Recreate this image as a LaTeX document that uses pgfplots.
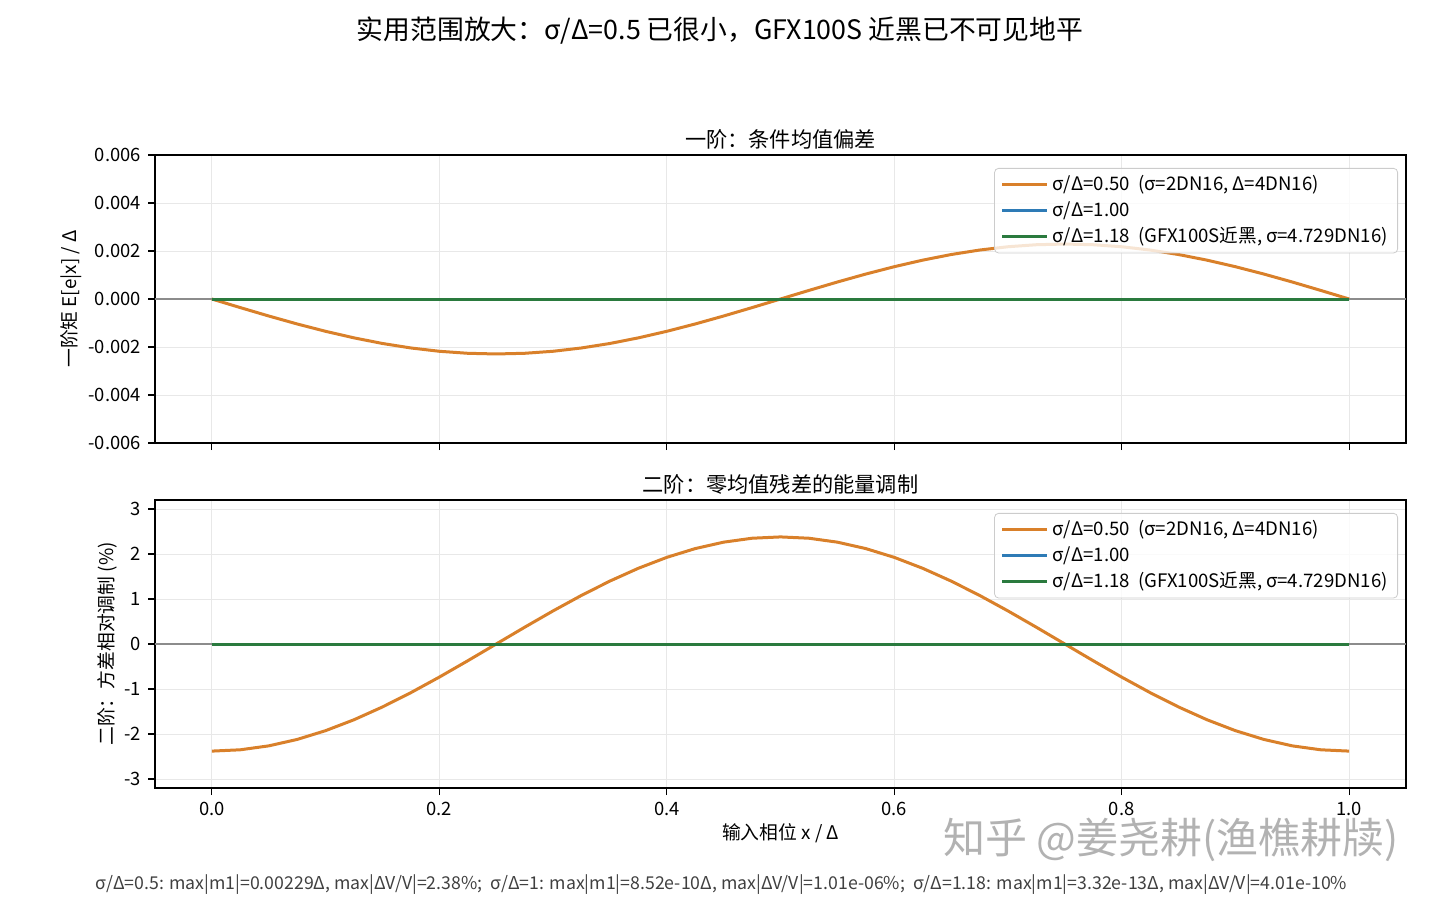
\documentclass[border=0pt]{standalone}
\usepackage{fontspec}
\setmainfont{Noto Sans CJK SC}
\usepackage{pgfplots}
\usepackage{pgfplotstable}
\pgfplotsset{compat=1.18}
\definecolor{corange}{HTML}{D9802A}
\definecolor{cblue}{HTML}{2E7BB6}
\definecolor{cgreen}{HTML}{2A7A3E}

\pgfplotstableread{
x m1
0.000 0
0.025 -0.000358
0.050 -0.000708
0.075 -0.001040
0.100 -0.001346
0.125 -0.001619
0.150 -0.001853
0.175 -0.002040
0.200 -0.002178
0.225 -0.002262
0.250 -0.002290
0.275 -0.002262
0.300 -0.002178
0.325 -0.002040
0.350 -0.001853
0.375 -0.001619
0.400 -0.001346
0.425 -0.001040
0.450 -0.000708
0.475 -0.000358
0.500 0
0.525 0.000358
0.550 0.000708
0.575 0.001040
0.600 0.001346
0.625 0.001619
0.650 0.001853
0.675 0.002040
0.700 0.002178
0.725 0.002262
0.750 0.002290
0.775 0.002262
0.800 0.002178
0.825 0.002040
0.850 0.001853
0.875 0.001619
0.900 0.001346
0.925 0.001040
0.950 0.000708
0.975 0.000358
1.000 0
}\tabtop

\pgfplotstableread{
x dv
0.000 -2.3800
0.025 -2.3507
0.050 -2.2635
0.075 -2.1206
0.100 -1.9255
0.125 -1.6829
0.150 -1.3989
0.175 -1.0805
0.200 -0.7355
0.225 -0.3723
0.250 0
0.275 0.3723
0.300 0.7355
0.325 1.0805
0.350 1.3989
0.375 1.6829
0.400 1.9255
0.425 2.1206
0.450 2.2635
0.475 2.3507
0.500 2.3800
0.525 2.3507
0.550 2.2635
0.575 2.1206
0.600 1.9255
0.625 1.6829
0.650 1.3989
0.675 1.0805
0.700 0.7355
0.725 0.3723
0.750 0
0.775 -0.3723
0.800 -0.7355
0.825 -1.0805
0.850 -1.3989
0.875 -1.6829
0.900 -1.9255
0.925 -2.1206
0.950 -2.2635
0.975 -2.3507
1.000 -2.3800
}\tabbot

\pgfplotstableread{
x y
0.00 0
0.25 0
0.50 0
0.75 0
1.00 0
}\tabzero

\pgfplotsset{
  myax/.style={
    scale only axis, width=625.5pt, height=144pt,
    xmin=-0.05, xmax=1.05,
    xtick={0,0.2,0.4,0.6,0.8,1.0},
    scaled x ticks=false, scaled y ticks=false,
    grid=major, grid style={black!9, line width=0.5pt},
    tick align=outside, tick pos=left, major tick length=3.5pt,
    tick style={black, line width=0.6pt},
    axis line style={black, line width=0.6pt},
    ticklabel style={font=\fontsize{9.2}{11}\selectfont},
    label style={font=\fontsize{9.4}{11}\selectfont},
    ylabel shift=-3.5pt,
    title style={font=\fontsize{10.6}{13}\selectfont, yshift=-6.5pt},
    /pgf/number format/assume math mode=true,
    legend cell align=left,
    legend style={at={(0.9936,0.955)}, anchor=north east, draw=black!20,
      rounded corners=2pt, fill=white, fill opacity=0.8, text opacity=1,
      font=\fontsize{9.3}{11}\selectfont, row sep=0pt, inner xsep=3pt, inner ysep=1.5pt},
    legend image code/.code={\draw[line width=1.5pt] (0pt,0pt) -- (19pt,0pt); \path (0pt,0pt) -- (22.5pt,0pt);},
  }
}

\begin{document}
\begin{tikzpicture}
\path[use as bounding box] (0pt,0pt) rectangle (720pt,-451pt);

\node[font=\fontsize{13.4}{16}\selectfont] at (360pt,-15.5pt) {实用范围放大：σ/Δ=0.5 已很小，GFX100S 近黑已不可见地平};

\begin{axis}[myax, at={(77.5pt,-77.5pt)}, anchor=north west,
  ymin=-0.006, ymax=0.006,
  ytick={-0.006,-0.004,-0.002,0,0.002,0.004,0.006},
  yticklabels={-0.006,-0.004,-0.002,0.000,0.002,0.004,0.006},
  xticklabels={},
  title={一阶：条件均值偏差},
  ylabel={一阶矩 \textit{E}[e|x] / Δ},
]
\addplot[black!45, line width=0.6pt, forget plot] coordinates {(-0.05,0) (1.05,0)};
\addplot[corange, line width=1.5pt] table[x=x,y=m1] {\tabtop};
\addlegendentry{σ/Δ=0.50\ \ (σ=2DN16, Δ=4DN16)}
\addplot[cblue, line width=1.5pt] table[x=x,y=y] {\tabzero};
\addlegendentry{σ/Δ=1.00}
\addplot[cgreen, line width=1.5pt] table[x=x,y=y] {\tabzero};
\addlegendentry{σ/Δ=1.18\ \ (GFX100S近黑, σ=4.729DN16)}
\end{axis}

\begin{axis}[myax, at={(77.5pt,-250pt)}, anchor=north west,
  ymin=-3.2, ymax=3.2,
  ytick={-3,-2,-1,0,1,2,3},
  yticklabels={-3,-2,-1,0,1,2,3},
  xticklabels={0.0,0.2,0.4,0.6,0.8,1.0},
  title={二阶：零均值残差的能量调制},
  ylabel={二阶：方差相对调制 (\%)},
  xlabel={输入相位 x / Δ},
  xlabel style={yshift=3pt},
]
\addplot[black!45, line width=0.6pt, forget plot] coordinates {(-0.05,0) (1.05,0)};
\addplot[corange, line width=1.5pt] table[x=x,y=dv] {\tabbot};
\addlegendentry{σ/Δ=0.50\ \ (σ=2DN16, Δ=4DN16)}
\addplot[cblue, line width=1.5pt] table[x=x,y=y] {\tabzero};
\addlegendentry{σ/Δ=1.00}
\addplot[cgreen, line width=1.5pt] table[x=x,y=y] {\tabzero};
\addlegendentry{σ/Δ=1.18\ \ (GFX100S近黑, σ=4.729DN16)}
\end{axis}

\node[font=\fontsize{21}{24}\selectfont, text=black!30, anchor=west] at (468pt,-420pt) {知乎 @姜尧耕(渔樵耕牍)};

\node[font=\fontsize{8.85}{10}\selectfont, text=black!75, anchor=west, inner sep=0pt] at (47.5pt,-442.5pt) {σ/Δ=0.5: max|m1|=0.00229Δ, max|ΔV/V|=2.38\%;\ \ σ/Δ=1: max|m1|=8.52e-10Δ, max|ΔV/V|=1.01e-06\%;\ \ σ/Δ=1.18: max|m1|=3.32e-13Δ, max|ΔV/V|=4.01e-10\%};
\end{tikzpicture}
\end{document}
